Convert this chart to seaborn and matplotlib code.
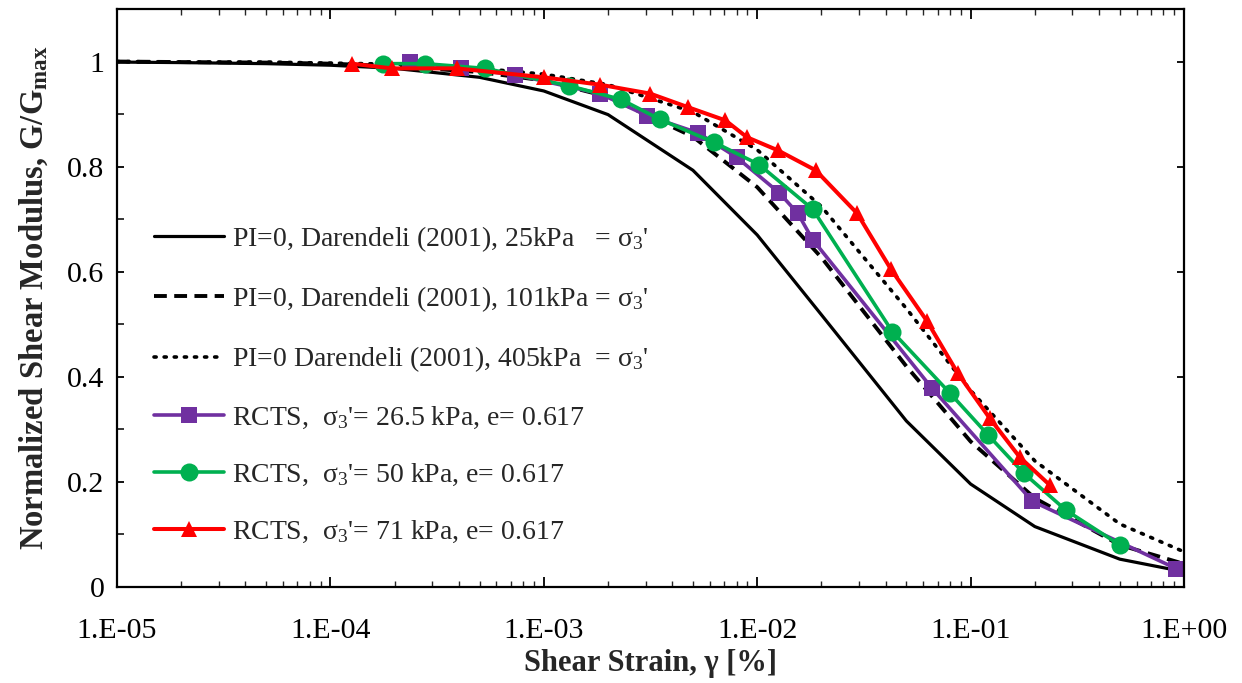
import matplotlib
matplotlib.use("Agg")
import matplotlib.pyplot as plt
import seaborn as sns
import numpy as np
import pandas as pd
from matplotlib.ticker import FixedLocator, NullFormatter

# ---------------- data ----------------
dar_strain = [1e-5, 2e-5, 5e-5, 1e-4, 2e-4, 5e-4, 1e-3, 2e-3, 5e-3,
              1e-2, 2e-2, 5e-2, 1e-1, 2e-1, 5e-1, 1.0]
dar_25 = [0.999, 0.998, 0.996, 0.993, 0.987, 0.970, 0.944, 0.899, 0.793,
          0.670, 0.518, 0.316, 0.196, 0.115, 0.053, 0.029]
dar_101 = [1.000, 0.999, 0.998, 0.996, 0.991, 0.980, 0.964, 0.933, 0.857,
           0.761, 0.627, 0.420, 0.277, 0.169, 0.080, 0.044]
dar_405 = [1.000, 0.999, 0.999, 0.997, 0.995, 0.987, 0.976, 0.956, 0.904,
           0.832, 0.724, 0.530, 0.374, 0.240, 0.120, 0.067]

rcts265_strain = [2.36e-4, 4.1e-4, 7.3e-4, 1.83e-3, 3.05e-3, 5.3e-3, 8.0e-3,
                  1.27e-2, 1.55e-2, 1.82e-2, 6.6e-2, 0.195, 0.92]
rcts265_g = [1.000, 0.987, 0.975, 0.939, 0.897, 0.864, 0.818,
             0.750, 0.711, 0.661, 0.378, 0.163, 0.035]

rcts50_strain = [1.77e-4, 2.77e-4, 5.3e-4, 1.31e-3, 2.30e-3, 3.5e-3, 6.3e-3,
                 1.02e-2, 1.82e-2, 4.3e-2, 8.0e-2, 0.121, 0.177, 0.28, 0.50]
rcts50_g = [0.996, 0.996, 0.987, 0.954, 0.928, 0.890, 0.846,
            0.804, 0.719, 0.486, 0.369, 0.289, 0.217, 0.146, 0.080]

rcts71_strain = [1.26e-4, 1.94e-4, 3.9e-4, 1.0e-3, 1.83e-3, 3.15e-3, 4.75e-3,
                 7.1e-3, 8.95e-3, 1.25e-2, 1.88e-2, 2.94e-2, 4.23e-2, 6.25e-2,
                 8.7e-2, 0.123, 0.170, 0.235]
rcts71_g = [0.996, 0.987, 0.987, 0.970, 0.956, 0.939, 0.913,
            0.888, 0.856, 0.831, 0.793, 0.711, 0.605, 0.506,
            0.407, 0.321, 0.247, 0.194]

xtick_vals = [1e-5, 1e-4, 1e-3, 1e-2, 1e-1, 1.0]
xtick_labels = ["1.E-05", "1.E-04", "1.E-03", "1.E-02", "1.E-01", "1.E+00"]
ytick_vals = [0, 0.2, 0.4, 0.6, 0.8, 1.0]
ytick_labels = ["0", "0.2", "0.4", "0.6", "0.8", "1"]

labels = [
    "PI=0, Darendeli (2001), 25kPa   = σ$_3$'",
    "PI=0, Darendeli (2001), 101kPa = σ$_3$'",
    "PI=0 Darendeli (2001), 405kPa  = σ$_3$'",
    "RCTS,  σ$_3$'= 26.5 kPa, e= 0.617",
    "RCTS,  σ$_3$'= 50 kPa, e= 0.617",
    "RCTS,  σ$_3$'= 71 kPa, e= 0.617",
]

# ---------------- style ----------------
sns.set_theme(style="white")
plt.rcParams["font.family"] = ["Liberation Serif", "DejaVu Serif"]
plt.rcParams["mathtext.fontset"] = "custom"
plt.rcParams["mathtext.rm"] = "Liberation Serif"
plt.rcParams["mathtext.it"] = "Liberation Serif:italic"
plt.rcParams["mathtext.bf"] = "Liberation Serif:bold"

fig = plt.figure(figsize=(12.42, 6.83), dpi=100)
ax = fig.add_axes([117 / 1242, 1 - 587 / 683, (1184 - 117) / 1242, (587 - 9) / 683])

purple = "#7030A0"
green = "#00B050"
red = "#FF0000"

def draw(x, y, **kw):
    df = pd.DataFrame({"x": x, "y": y})
    sns.lineplot(data=df, x="x", y="y", ax=ax, sort=False, estimator=None, **kw)

draw(dar_strain, dar_25, color="black", linewidth=2.3, linestyle="-", label=labels[0])
draw(dar_strain, dar_101, color="black", linewidth=2.8, label=labels[1])
ax.lines[-1].set_dashes([3.3, 1.9])
draw(dar_strain, dar_405, color="black", linewidth=2.6, label=labels[2])
ax.lines[-1].set_dashes([0.6, 2.2])
ax.lines[-1].set_dash_capstyle("round")
draw(rcts265_strain, rcts265_g, color=purple, linewidth=2.6, marker="s",
     markersize=11, markeredgewidth=0, label=labels[3])
draw(rcts50_strain, rcts50_g, color=green, linewidth=2.6, marker="o",
     markersize=13, markeredgewidth=0, label=labels[4])
draw(rcts71_strain, rcts71_g, color=red, linewidth=2.9, marker="^",
     markersize=12, markeredgewidth=0, label=labels[5])

ax.set_xscale("log")
ax.set_xlim(1e-5, 1.0)
ax.set_ylim(0, 1.1)

ax.set_xticks(xtick_vals)
ax.set_xticklabels(xtick_labels)
minor = [m * 10.0 ** e for e in range(-5, 0) for m in range(2, 10)]
ax.xaxis.set_minor_locator(FixedLocator(minor))
ax.xaxis.set_minor_formatter(NullFormatter())
ax.set_yticks(ytick_vals)
ax.set_yticklabels(ytick_labels)
ax.yaxis.set_minor_locator(FixedLocator([0.1, 0.3, 0.5, 0.7, 0.9]))

ax.tick_params(axis="x", which="major", direction="in", length=7, width=1.3,
               top=True, bottom=True, labelsize=21.5, pad=22, colors="black")
ax.tick_params(axis="x", which="minor", direction="in", length=4.5, width=1.0,
               top=True, bottom=True)
ax.tick_params(axis="y", which="major", direction="in", length=5, width=1.3,
               left=True, right=True, labelsize=21.5, pad=9, colors="black")
ax.tick_params(axis="y", which="minor", direction="in", length=5, width=1.3,
               left=True, right=False)

for s in ax.spines.values():
    s.set_color("black")
    s.set_linewidth(1.6)

ax.set_xlabel("Shear Strain, γ [%]", fontsize=22, fontweight="bold", labelpad=4)
ax.set_ylabel(r"Normalized Shear Modulus, G/G$_{\mathbf{max}}$", fontsize=23.5,
              fontweight="bold", labelpad=12)

leg = ax.legend(loc="upper left", bbox_to_anchor=(0.035, 0.628), frameon=False,
                fontsize=20, handlelength=2.5, handletextpad=0.3,
                labelspacing=1.1, borderpad=0, borderaxespad=0)

fig.savefig("out.png", dpi=100)
